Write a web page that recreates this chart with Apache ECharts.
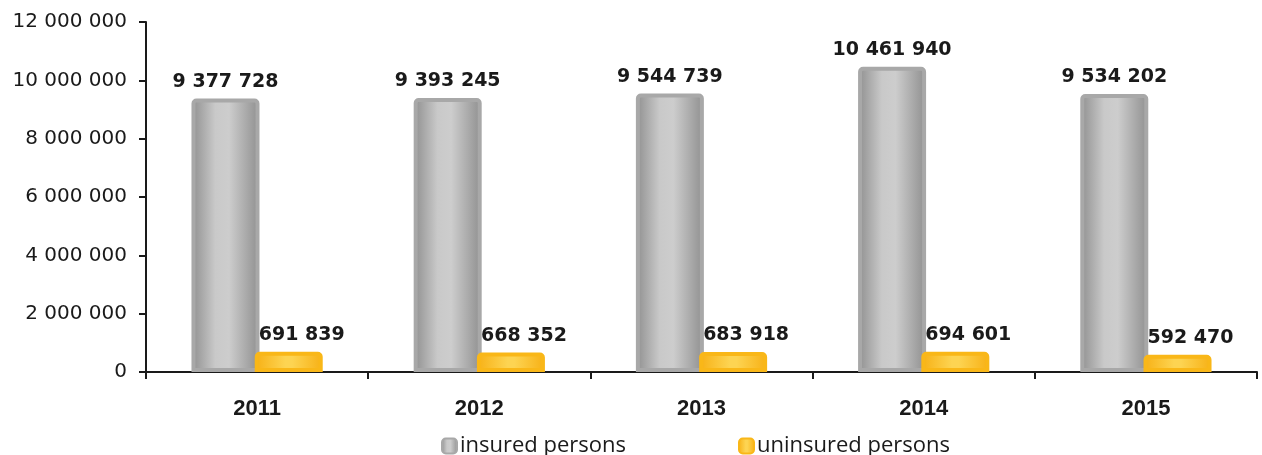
<!DOCTYPE html>
<html>
<head>
<meta charset="utf-8">
<script src="https://cdn.jsdelivr.net/npm/echarts@6/dist/echarts.min.js"></script>
<style>
  html, body { margin: 0; padding: 0; background: #ffffff; }
  #chart { width: 1262px; height: 455px; }
</style>
</head>
<body>
<div id="chart"></div>
<script>
// Persons by insurance status, 2011–2015
const years = ['2011', '2012', '2013', '2014', '2015'];
const insured = [9377728, 9393245, 9544739, 10461940, 9534202];
const uninsured = [691839, 668352, 683918, 694601, 592470];
const seriesNames = ['insured persons', 'uninsured persons'];

// "9377728" -> "9 377 728"
function spaced(v) {
  return String(v).replace(/\B(?=(\d{3})+(?!\d))/g, ' ');
}

function hGrad(stops) {
  return new echarts.graphic.LinearGradient(0, 0, 1, 0,
    stops.map(function (s) { return { offset: s[0], color: s[1] }; }));
}

const grayFill = hGrad([[0, '#8f8f8f'], [0.35, '#c9c9c9'], [0.55, '#cdcdcd'], [1, '#8f8f8f']]);
const goldFill = hGrad([[0, '#f7b014'], [0.45, '#fdd452'], [0.55, '#fdd452'], [1, '#f7b014']]);

const textColor = '#1a1a1a';
const valueFont = { fontFamily: 'DejaVu Sans, sans-serif', fontSize: 19, fontWeight: 'bold', color: textColor };
const legendText = { fontFamily: 'Open Sans, sans-serif', fontSize: 22, color: textColor, padding: [0, 0, 0, -2] };

const chart = echarts.init(document.getElementById('chart'), null, { renderer: 'canvas' });

chart.setOption({
  animation: false,
  backgroundColor: '#ffffff',
  grid: { left: 146, right: 5, top: 22, bottom: 83, containLabel: false },
  legend: [
    {
      data: [seriesNames[0]],
      left: 441, top: 435, padding: 0,
      itemWidth: 15, itemHeight: 15, itemGap: 0,
      icon: 'roundRect',
      textStyle: legendText
    },
    {
      data: [seriesNames[1]],
      left: 738, top: 435, padding: 0,
      itemWidth: 15, itemHeight: 15, itemGap: 0,
      icon: 'roundRect',
      textStyle: legendText
    }
  ],
  xAxis: {
    type: 'category',
    data: years,
    axisLine: { lineStyle: { color: textColor, width: 2 } },
    axisTick: { show: true, length: 7, lineStyle: { color: textColor, width: 2 } },
    axisLabel: {
      margin: 26,
      fontFamily: 'Liberation Sans, Arial, sans-serif',
      fontSize: 22,
      fontWeight: 'bold',
      color: textColor
    }
  },
  yAxis: {
    type: 'value',
    min: 0, max: 12000000, interval: 2000000,
    axisLine: { show: true, lineStyle: { color: textColor, width: 2 } },
    axisTick: { show: true, length: 7, lineStyle: { color: textColor, width: 2 } },
    splitLine: { show: false },
    axisLabel: {
      margin: 19,
      fontFamily: 'DejaVu Sans, sans-serif',
      fontSize: 20,
      color: textColor,
      formatter: spaced
    }
  },
  series: [
    {
      name: seriesNames[0],
      type: 'bar',
      data: insured,
      barWidth: 68,
      barGap: '-7%',
      itemStyle: {
        color: grayFill,
        borderColor: '#a8a8a8',
        borderWidth: 4,
        borderRadius: [3, 3, 0, 0]
      },
      label: Object.assign({
        show: true, position: 'top', distance: 7,
        formatter: function (p) { return spaced(p.value); }
      }, valueFont)
    },
    {
      name: seriesNames[1],
      type: 'bar',
      data: uninsured,
      barWidth: 68,
      itemStyle: {
        color: goldFill,
        borderColor: '#f9b718',
        borderWidth: 4,
        borderRadius: [3, 3, 0, 0]
      },
      label: Object.assign({
        show: true, position: 'top', distance: 7, offset: [13, 0],
        formatter: function (p) { return spaced(p.value); }
      }, valueFont)
    }
  ]
});
</script>
</body>
</html>
